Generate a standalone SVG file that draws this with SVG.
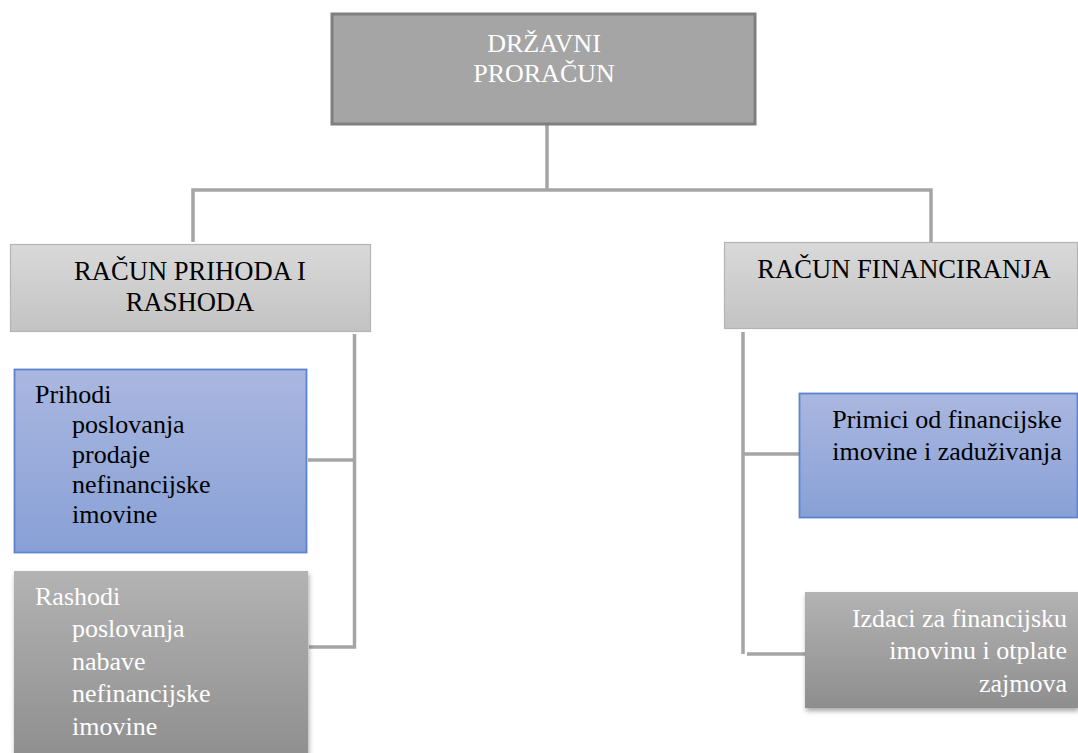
<svg xmlns="http://www.w3.org/2000/svg" width="1078" height="753" viewBox="0 0 1078 753">
<style>
text{font-family:'Liberation Serif',Tinos,'Times New Roman','DejaVu Serif',serif;font-size:26px}
.hd{font-size:26.6px}
.dk{fill:#000}
.wt{fill:#fff}
.conn{fill:none;stroke:#a5a5a5;stroke-width:3.5}
</style>
<defs>
<linearGradient id="gLight" x1="0" y1="0" x2="0" y2="1"><stop offset="0" stop-color="#d9d9d9"/><stop offset="1" stop-color="#c3c3c3"/></linearGradient>
<linearGradient id="gBlue" x1="0" y1="0" x2="0" y2="1"><stop offset="0" stop-color="#aab7e0"/><stop offset="1" stop-color="#88a0d6"/></linearGradient>
<linearGradient id="gGray" x1="0" y1="0" x2="0" y2="1"><stop offset="0" stop-color="#b3b3b3"/><stop offset="1" stop-color="#8e8e8e"/></linearGradient>
<filter id="sh" x="-10%" y="-10%" width="125%" height="130%"><feDropShadow dx="1" dy="3" stdDeviation="2.5" flood-color="#000" flood-opacity="0.35"/></filter>
</defs>
<g id="connectors">
<path class="conn" d="M547 125 V190"/>
<path class="conn" d="M193 242 V190 H931 V242"/>
<path class="conn" d="M354.5 334 V647 H309 M354.5 460 H308"/>
<path class="conn" d="M743 332 V654 M743 454 H799 M747 654 H805"/>
</g>
<g id="n-drzavni">
<rect x="332" y="14" width="423" height="110" fill="#a5a5a5" stroke="#7f7f7f" stroke-width="3"/>
<text class="wt" text-anchor="middle" x="544" y="52">DRŽAVNI</text>
<text class="wt" text-anchor="middle" x="544" y="82">PRORAČUN</text>
</g>
<g id="n-prihodi-rashodi">
<rect x="10.5" y="244.5" width="360" height="87" fill="url(#gLight)" stroke="#b4b4b4" stroke-width="1.2"/>
<text class="dk hd" text-anchor="middle" x="190" y="280">RAČUN PRIHODA I</text>
<text class="dk hd" text-anchor="middle" x="190" y="311">RASHODA</text>
</g>
<g id="n-financiranje">
<rect x="724.5" y="242.5" width="353" height="86" fill="url(#gLight)" stroke="#b4b4b4" stroke-width="1.2"/>
<text class="dk hd" text-anchor="middle" x="904" y="278">RAČUN FINANCIRANJA</text>
</g>
<g id="n-prihodi">
<rect x="14.5" y="369.5" width="292" height="183" fill="url(#gBlue)" stroke="#5b83cf" stroke-width="1.8"/>
<text class="dk" x="35" y="403">Prihodi</text>
<text class="dk" x="72" y="433">poslovanja</text>
<text class="dk" x="72" y="463">prodaje</text>
<text class="dk" x="72" y="493">nefinancijske</text>
<text class="dk" x="72" y="523">imovine</text>
</g>
<g id="n-rashodi">
<rect x="14" y="571" width="294" height="190" fill="url(#gGray)" filter="url(#sh)"/>
<text class="wt" x="35" y="605">Rashodi</text>
<text class="wt" x="72" y="637">poslovanja</text>
<text class="wt" x="72" y="670">nabave</text>
<text class="wt" x="72" y="702">nefinancijske</text>
<text class="wt" x="72" y="735">imovine</text>
</g>
<g id="n-primici">
<rect x="799.5" y="393.5" width="278" height="124" fill="url(#gBlue)" stroke="#5b83cf" stroke-width="1.8"/>
<text class="dk" text-anchor="middle" x="947" y="428">Primici od financijske</text>
<text class="dk" text-anchor="middle" x="947" y="460">imovine i zaduživanja</text>
</g>
<g id="n-izdaci">
<rect x="805" y="592" width="273" height="116" fill="url(#gGray)" filter="url(#sh)"/>
<text class="wt" text-anchor="end" x="1067" y="627">Izdaci za financijsku</text>
<text class="wt" text-anchor="end" x="1067" y="659">imovinu i otplate</text>
<text class="wt" text-anchor="end" x="1067" y="692">zajmova</text>
</g>
</svg>
